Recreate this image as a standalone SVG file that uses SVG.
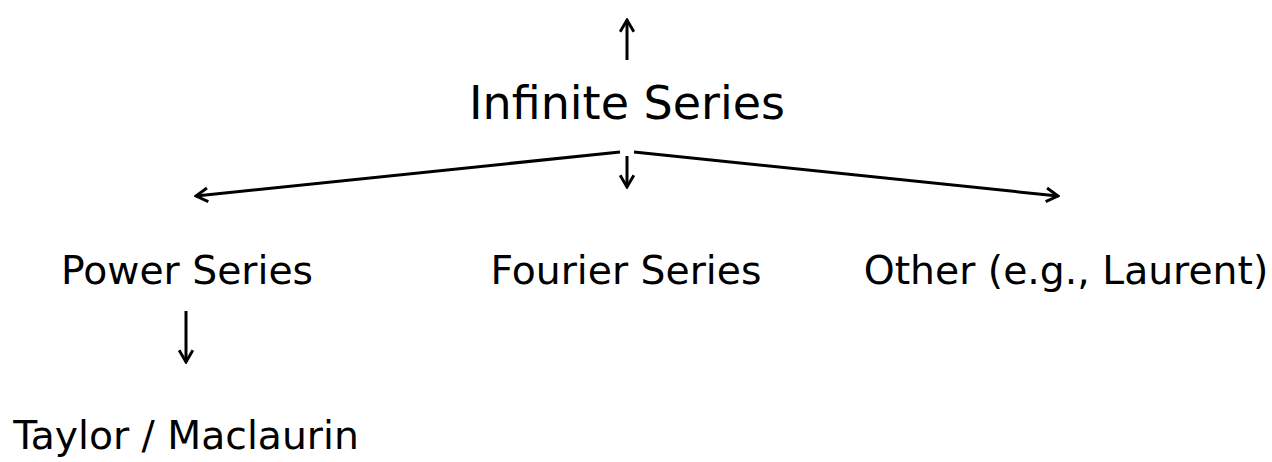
<svg xmlns="http://www.w3.org/2000/svg" width="1272" height="462" viewBox="0 0 1272 462">
<style>
text{font-family:"DejaVu Sans",sans-serif;fill:#000;text-anchor:middle}
.t{font-size:46px}
.n{font-size:39.3px}
.c line{stroke:#000;stroke-width:3;fill:none}
</style>
<defs>
<marker id="ah" viewBox="0 0 10 10" refX="9" refY="5" markerWidth="18" markerHeight="18" markerUnits="userSpaceOnUse" orient="auto">
<path d="M2.5,1.2 L9,5 L2.5,8.8" fill="none" stroke="#000" stroke-width="1.6"/>
</marker>
</defs>
<rect width="1272" height="462" fill="#fff"/>
<g class="c">
<line x1="627" y1="60" x2="627" y2="20" marker-end="url(#ah)"/>
<line x1="627" y1="156" x2="627" y2="187" marker-end="url(#ah)"/>
<line x1="620" y1="152" x2="196" y2="196" marker-end="url(#ah)"/>
<line x1="634" y1="152" x2="1058" y2="196" marker-end="url(#ah)"/>
<line x1="186" y1="311" x2="186" y2="362" marker-end="url(#ah)"/>
</g>
<g id="infinite"><text class="t" x="627" y="119">Infinite Series</text></g>
<g id="power"><text class="n" x="187" y="284">Power Series</text></g>
<g id="fourier"><text class="n" x="626" y="284">Fourier Series</text></g>
<g id="other"><text class="n" x="1066" y="284">Other (e.g., Laurent)</text></g>
<g id="taylor"><text class="n" x="186" y="449">Taylor / Maclaurin</text></g>
</svg>
